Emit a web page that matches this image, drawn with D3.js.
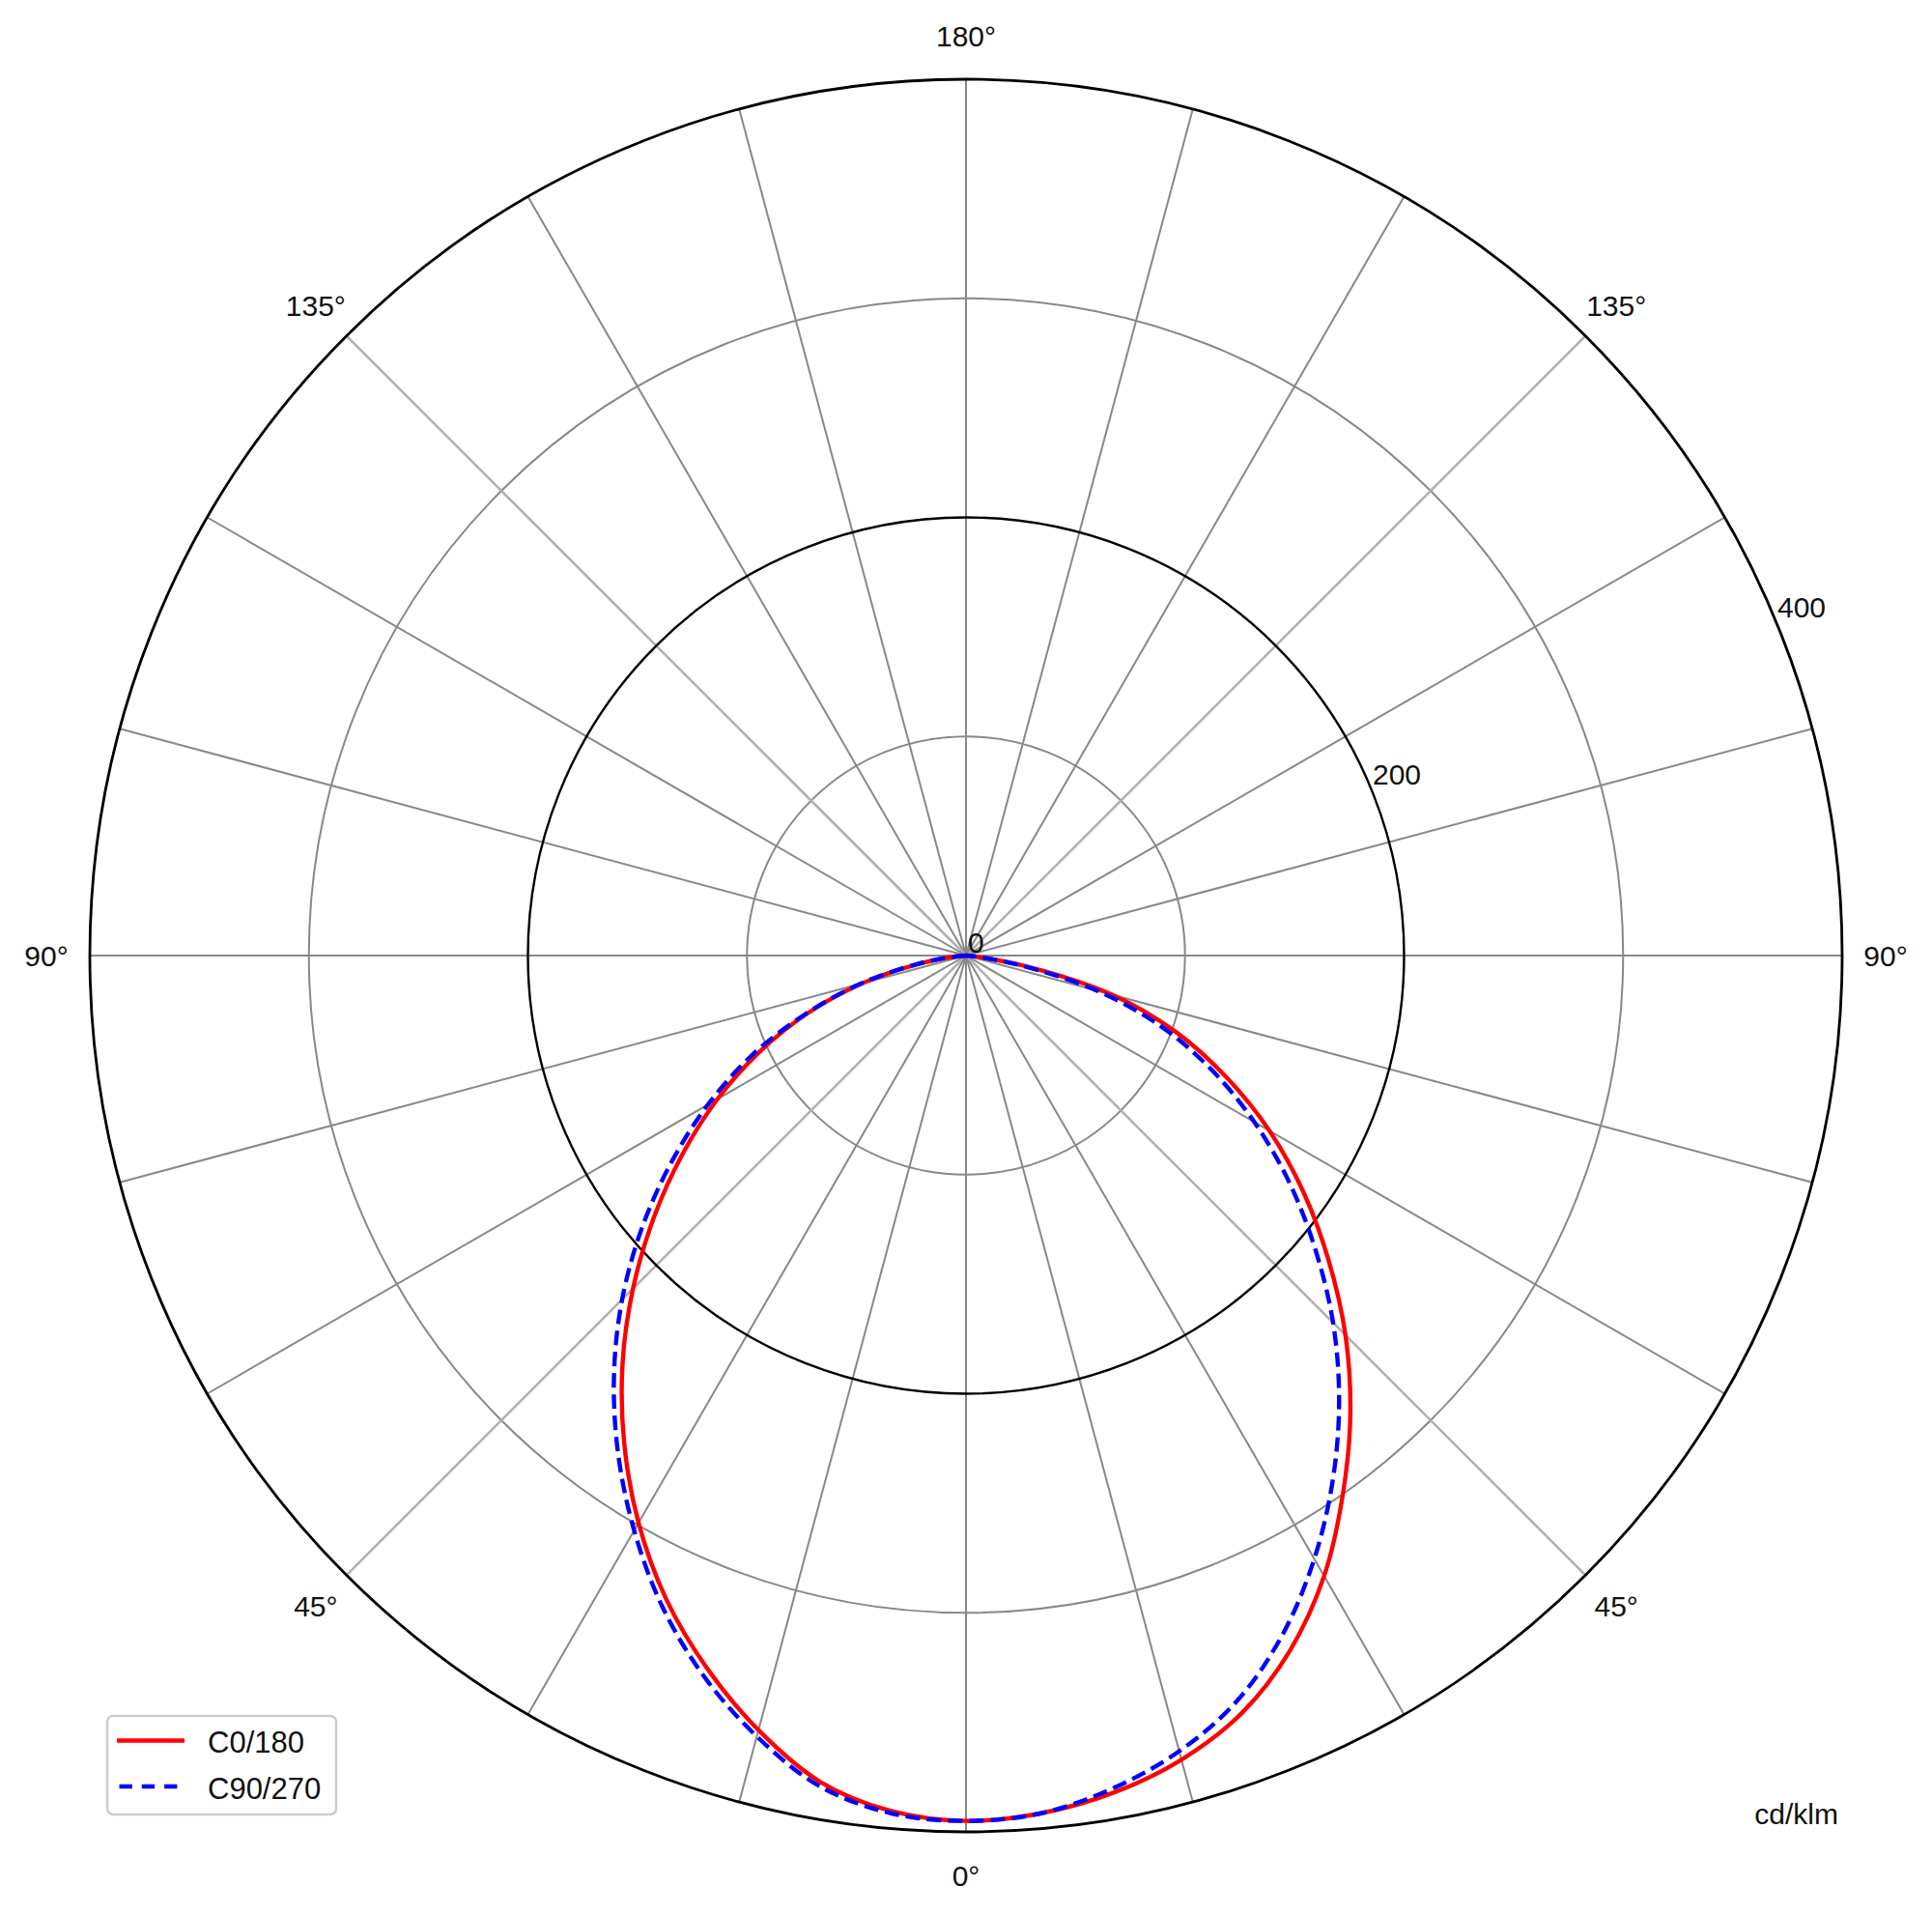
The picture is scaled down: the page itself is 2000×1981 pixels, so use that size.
<!DOCTYPE html>
<html>
<head>
<meta charset="utf-8">
<script src="https://cdn.jsdelivr.net/npm/d3@7"></script>
<style>
  html, body { margin: 0; padding: 0; background: #fff; }
  svg text { font-family: "Liberation Sans", Arial, Helvetica, sans-serif; fill: #111; }
</style>
</head>
<body>
<svg id="chart" width="2000" height="1981"></svg>
<script>
// ---- data ----
const gammas = [0, 5, 10, 15, 20, 25, 30, 35, 40, 45, 50, 55, 60, 65, 70, 75, 80, 85, 90];
const c0   = [395, 393, 388, 380, 368, 350, 327, 300, 273, 245, 216, 188, 160, 131, 102, 69, 27, 3, 0];
const c180 = [395, 392, 383, 366, 346, 324, 299, 272, 244, 215, 186, 158, 131, 104, 77, 49, 22, 5, 0];
const c90  = [395, 393, 386, 376, 362, 342, 318, 292, 265, 237, 208, 180, 152, 124, 95, 62, 24, 3, 0];
const c270 = [395, 393, 385, 369, 350, 328, 303, 277, 250, 222, 193, 164, 136, 108, 78, 50, 23, 5, 0];
const seriesNames = ["C0/180", "C90/270"];
const rTickLabels = ["0", "200", "400"];
const gridAngles = d3.range(0, 360, 15);
const angleLabels = [
  {deg: 0, text: "0°"}, {deg: 45, text: "45°"}, {deg: -45, text: "45°"},
  {deg: 90, text: "90°"}, {deg: -90, text: "90°"}, {deg: 135, text: "135°"},
  {deg: -135, text: "135°"}, {deg: 180, text: "180°"}
];
const unitLabel = "cd/klm";

// ---- layout ----
const svg = d3.select("#chart");
const cx = 1000, cy = 989, R = 907;
const r = d3.scaleLinear().domain([0, 400]).range([0, R]);
const g = svg.append("g").attr("transform", `translate(${cx},${cy})`);

// gamma measured from bottom (nadir); right side positive, left side negative
function pt(gDeg, v) {
  const a = gDeg * Math.PI / 180;
  return [r(v) * Math.sin(a), r(v) * Math.cos(a)];
}

// gray rings
[100, 300].forEach(v => {
  g.append("circle").attr("r", r(v)).attr("fill", "none")
    .attr("stroke", "#888888").attr("stroke-width", 2);
});
// radial lines
gridAngles.forEach(d => {
  const isDiag = (d % 90 === 45);
  const [x, y] = pt(d, 400);
  g.append("line").attr("x1", 0).attr("y1", 0).attr("x2", x).attr("y2", y)
    .attr("stroke", isDiag ? "#b0b0b0" : "#888888")
    .attr("stroke-width", isDiag ? 2.6 : 2);
});
// black rings
[200, 400].forEach(v => {
  g.append("circle").attr("r", r(v)).attr("fill", "none")
    .attr("stroke", "#000").attr("stroke-width", v === 400 ? 2.8 : 2.4);
});

// curves
function buildPoints(right, left) {
  const pts = [];
  for (let i = gammas.length - 1; i >= 0; i--) pts.push([Math.PI + gammas[i] * Math.PI / 180, r(left[i])]);
  for (let i = 1; i < gammas.length; i++) pts.push([Math.PI - gammas[i] * Math.PI / 180, r(right[i])]);
  return pts;
}
const radial = d3.lineRadial().angle(d => d[0]).radius(d => d[1]).curve(d3.curveCatmullRom.alpha(0.5));

g.append("path").attr("d", radial(buildPoints(c0, c180)))
  .attr("fill", "none").attr("stroke", "#ff0000").attr("stroke-width", 4.4).attr("stroke-linejoin", "round");
g.append("path").attr("d", radial(buildPoints(c90, c270)))
  .attr("fill", "none").attr("stroke", "#0000ff").attr("stroke-width", 4.4)
  .attr("stroke-dasharray", "15,7");

// radial tick labels at 22.5 deg above horizontal (right)
const la = 22.5 * Math.PI / 180;
rTickLabels.forEach(t => {
  const v = +t;
  g.append("text")
    .attr("x", r(v) * Math.cos(la) + 2)
    .attr("y", -r(v) * Math.sin(la) - 3)
    .attr("font-size", 30)
    .attr("text-anchor", "start")
    .text(t);
});

// angle labels
angleLabels.forEach(d => {
  const a = d.deg * Math.PI / 180;
  const rl = 952;
  g.append("text")
    .attr("x", rl * Math.sin(a))
    .attr("y", rl * Math.cos(a))
    .attr("dy", "0.36em")
    .attr("font-size", 30)
    .attr("text-anchor", "middle")
    .text(d.text);
});

// unit label
svg.append("text").attr("x", 1903).attr("y", 1888).attr("font-size", 30)
  .attr("text-anchor", "end").text(unitLabel);

// legend
const lg = svg.append("g");
lg.append("rect").attr("x", 111).attr("y", 1776).attr("width", 237).attr("height", 102)
  .attr("rx", 6).attr("fill", "#fff").attr("fill-opacity", 0.8)
  .attr("stroke", "#cccccc").attr("stroke-width", 2.5);
const legendStyles = [
  {color: "#ff0000", dash: null},
  {color: "#0000ff", dash: "13.3,10"}
];
seriesNames.forEach((name, i) => {
  const y = 1801.5 + i * 47.5;
  lg.append("line").attr("x1", 121).attr("x2", 191).attr("y1", y).attr("y2", y)
    .attr("stroke", legendStyles[i].color).attr("stroke-width", 4.4)
    .attr("stroke-dasharray", legendStyles[i].dash ? legendStyles[i].dash : null)
    .attr("stroke-dashoffset", legendStyles[i].dash ? -2.5 : null);
  lg.append("text").attr("x", 215).attr("y", y + 12.5).attr("font-size", 31).text(name);
});
</script>
</body>
</html>
